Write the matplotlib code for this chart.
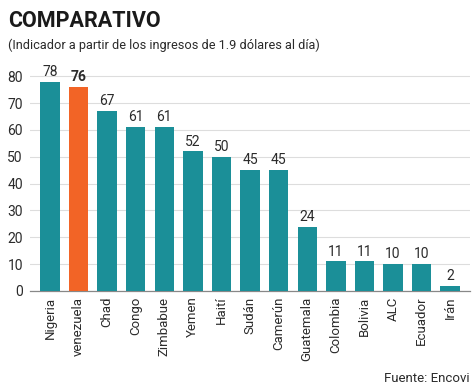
import matplotlib
matplotlib.use('Agg')
from matplotlib import pyplot as plt

paises = ['Nigeria', 'venezuela', 'Chad', 'Congo', 'Zimbabue', 'Yemen', 'Haití', 'Sudán',
          'Camerún', 'Guatemala', 'Colombia', 'Bolivia', 'ALC', 'Ecuador', 'Irán']
valores = [78, 76, 67, 61, 61, 52, 50, 45, 45, 24, 11, 11, 10, 10, 2]
destacado = 'venezuela'

teal = '#1b8f98'
naranja = '#f26426'
texto = '#2b2b2b'

plt.rcParams['font.family'] = ['Roboto', 'DejaVu Sans']

fig = plt.figure(figsize=(4.74, 3.89), dpi=100)
ax = fig.add_axes([0.063, 0.252, 0.929, 0.566])

x = list(range(len(paises)))
colores = [naranja if p == destacado else teal for p in paises]
ax.bar(x, valores, width=0.68, color=colores, zorder=3)

for i, v in enumerate(valores):
    bold = paises[i] == destacado
    ax.text(i, v + 1, str(v), ha='center', va='bottom', fontsize=10,
            color=texto, fontweight='bold' if bold else 'normal', zorder=4)

ax.set_xlim(-0.7, len(paises) - 0.3)
ax.set_ylim(0, 82)
ax.set_yticks(range(0, 81, 10))
ax.yaxis.grid(True, color='#dddddd', linewidth=0.8, zorder=0)
ax.set_xticks(x)
ax.set_xticklabels(paises, rotation=90, fontsize=9.5, color=texto)
ax.tick_params(axis='y', length=0, labelsize=10, labelcolor=texto, pad=5)
ax.tick_params(axis='x', length=0, pad=4)
for s in ['top', 'right', 'left']:
    ax.spines[s].set_visible(False)
ax.spines['bottom'].set_color('#888888')
ax.spines['bottom'].set_linewidth(0.9)

fig.text(0.017, 0.945, 'COMPARATIVO', fontsize=15.5, fontweight='bold', color='#1a1a1a',
         ha='left', va='center')
fig.text(0.017, 0.884, '(Indicador a partir de los ingresos de 1.9 dólares al día)',
         fontsize=9.2, color=texto, ha='left', va='center')
fig.text(0.99, 0.028, 'Fuente: Encovi', fontsize=9.5, color=texto, ha='right', va='center')

fig.savefig('out.png', dpi=100)
